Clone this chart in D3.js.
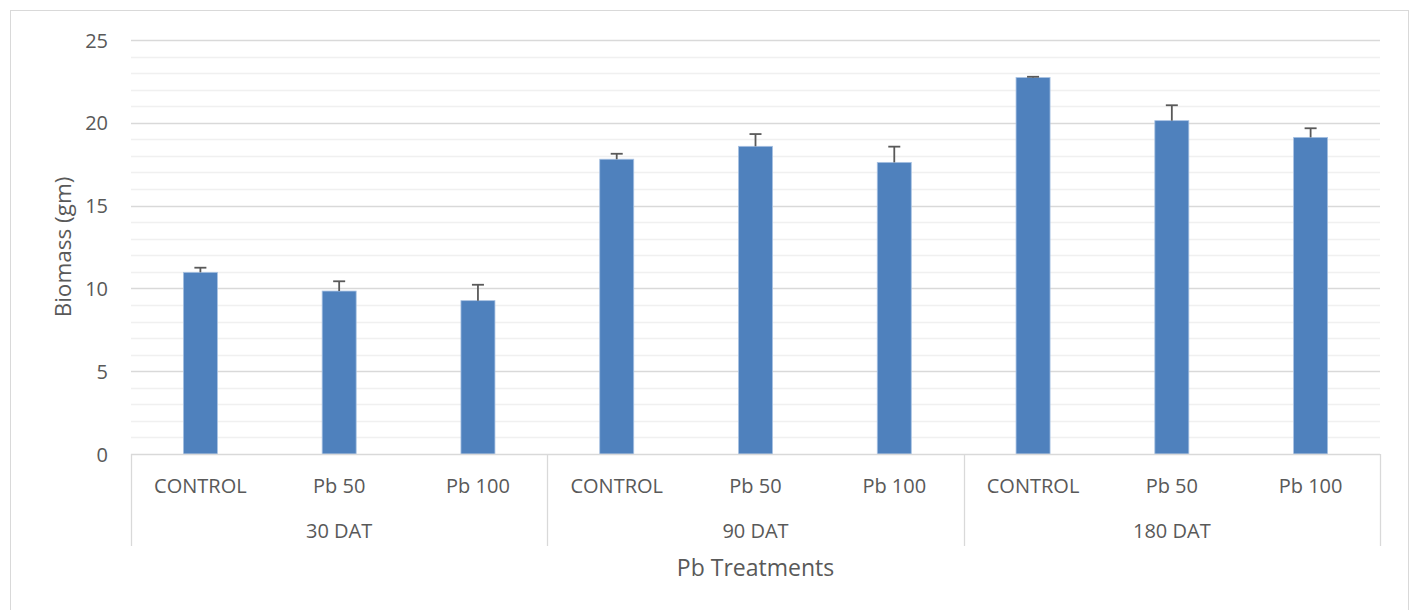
<!DOCTYPE html>
<html>
<head>
<meta charset="utf-8">
<script src="https://cdn.jsdelivr.net/npm/d3@7"></script>
<style>
  html, body { margin: 0; padding: 0; background: #fff; }
  svg { display: block; }
  text { font-family: "Open Sans", "Liberation Sans", sans-serif; fill: #595959; }
</style>
</head>
<body>
<svg id="chart" width="1413" height="610"></svg>
<script>
// ---- data ----
const groups = ["30 DAT", "90 DAT", "180 DAT"];
const treatments = ["CONTROL", "Pb 50", "Pb 100"];
const biomass30 = [10.97, 9.84, 9.26];
const biomass90 = [17.80, 18.58, 17.61];
const biomass180 = [22.73, 20.13, 19.12];
const err30 = [0.28, 0.59, 0.96];
const err90 = [0.33, 0.74, 0.95];
const err180 = [0.05, 0.93, 0.55];
const yTicks = [0, 5, 10, 15, 20, 25];
const yTitle = "Biomass (gm)";
const xTitle = "Pb Treatments";

const groupValues = [biomass30, biomass90, biomass180];
const groupErrors = [err30, err90, err180];
const rows = [];
groups.forEach((g, gi) => {
  treatments.forEach((t, ti) => {
    rows.push({ key: g + "|" + t, group: g, treatment: t, value: groupValues[gi][ti], err: groupErrors[gi][ti] });
  });
});

// ---- layout ----
const svg = d3.select("#chart");
const pLeft = 131, pRight = 1380, pTop = 40, pBottom = 454;

svg.append("rect").attr("x", 10.5).attr("y", 10.5).attr("width", 1398).attr("height", 610)
  .attr("fill", "#fff").attr("stroke", "#d9d9d9").attr("stroke-width", 1);

const y = d3.scaleLinear().domain([0, 25]).range([pBottom, pTop]);
const x = d3.scaleBand().domain(rows.map(d => d.key)).range([pLeft, pRight]).padding(0);
const gx = d3.scaleBand().domain(groups).range([pLeft, pRight]).padding(0);

// minor gridlines
const minor = d3.range(1, 26).filter(v => v % 5 !== 0);
svg.append("g").selectAll("line").data(minor).join("line")
  .attr("x1", pLeft).attr("x2", pRight)
  .attr("y1", d => Math.round(y(d)) + 0.5).attr("y2", d => Math.round(y(d)) + 0.5)
  .attr("stroke", "#f0f0f0").attr("stroke-width", 1.3);

// major gridlines
svg.append("g").selectAll("line").data(yTicks.filter(v => v > 0)).join("line")
  .attr("x1", pLeft).attr("x2", pRight)
  .attr("y1", d => Math.round(y(d)) + 0.5).attr("y2", d => Math.round(y(d)) + 0.5)
  .attr("stroke", "#d9d9d9").attr("stroke-width", 1.3);

// y axis labels
const yAxis = d3.axisLeft(y).tickValues(yTicks).tickSize(0).tickPadding(0);
const yg = svg.append("g").attr("transform", `translate(${108},0)`).call(yAxis);
yg.select(".domain").remove();
yg.selectAll("text").attr("font-size", 20).attr("fill", "#595959")
  .style("font-family", '"Open Sans", sans-serif').attr("dy", "0.35em");

// bars
const barW = x.bandwidth() * 0.245;
svg.append("g").selectAll("rect").data(rows).join("rect")
  .attr("x", d => x(d.key) + (x.bandwidth() - barW) / 2)
  .attr("y", d => y(d.value))
  .attr("width", barW)
  .attr("height", d => y(0) - y(d.value))
  .attr("fill", "#4f81bd")
  .attr("stroke", "#a7c1e2").attr("stroke-width", 0.8);

// error bars (plus direction)
const eg = svg.append("g").attr("stroke", "#595959").attr("stroke-width", 1.8);
rows.forEach(d => {
  const cx = x(d.key) + x.bandwidth() / 2;
  eg.append("line").attr("x1", cx).attr("x2", cx).attr("y1", y(d.value)).attr("y2", y(d.value + d.err));
  eg.append("line").attr("x1", cx - 6).attr("x2", cx + 6).attr("y1", y(d.value + d.err)).attr("y2", y(d.value + d.err));
});

// category axis
const axisColor = "#d9d9d9";
svg.append("line").attr("x1", pLeft).attr("x2", pRight).attr("y1", pBottom + 0.5).attr("y2", pBottom + 0.5)
  .attr("stroke", axisColor).attr("stroke-width", 1.3);
const bounds = groups.map(g => gx(g)).concat([pRight]);
svg.append("g").selectAll("line").data(bounds).join("line")
  .attr("x1", d => Math.round(d) + 0.5).attr("x2", d => Math.round(d) + 0.5)
  .attr("y1", pBottom).attr("y2", 546)
  .attr("stroke", axisColor).attr("stroke-width", 1.3);

svg.append("g").selectAll("text").data(rows).join("text")
  .attr("x", d => x(d.key) + x.bandwidth() / 2)
  .attr("y", 493)
  .attr("text-anchor", "middle").attr("font-size", 20)
  .text(d => d.treatment);

svg.append("g").selectAll("text").data(groups).join("text")
  .attr("x", d => gx(d) + gx.bandwidth() / 2)
  .attr("y", 538)
  .attr("text-anchor", "middle").attr("font-size", 20)
  .text(d => d);

// axis titles
svg.append("text").attr("x", (pLeft + pRight) / 2).attr("y", 576)
  .attr("text-anchor", "middle").attr("font-size", 23).text(xTitle);
svg.append("text").attr("transform", `translate(71,${(pTop + pBottom) / 2}) rotate(-90)`)
  .attr("text-anchor", "middle").attr("font-size", 22.5).text(yTitle);
</script>
</body>
</html>
